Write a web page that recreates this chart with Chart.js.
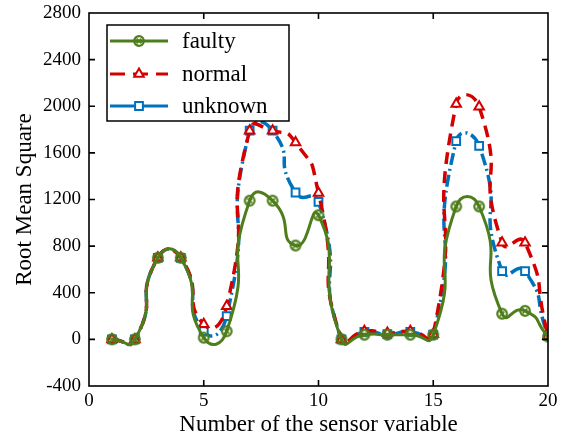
<!DOCTYPE html>
<html>
<head>
<meta charset="utf-8">
<script src="https://cdn.jsdelivr.net/npm/chart.js@4.4.0/dist/chart.umd.min.js"></script>
<style>
  html, body { margin: 0; padding: 0; background: #fff; }
  #wrap { width: 569px; height: 439px; }
</style>
</head>
<body>
<div id="wrap"><canvas id="rms"></canvas></div>
<script>
const sensorIdx = [1, 2, 3, 4, 5, 6, 7, 8, 9, 10, 11, 12, 13, 14, 15, 16, 17, 18, 19, 20];
const faulty  = [0, 0, 700, 700, 15, 70, 1190, 1190, 805, 1065, 0, 40, 40, 40, 40, 1140, 1140, 220, 245, 25];
const normal  = [0, 0, 700, 700, 130, 285, 1790, 1790, 1690, 1255, 0, 70, 55, 70, 45, 2020, 1995, 830, 830, 30];
const unknown = [0, 0, 700, 700, 70, 200, 1790, 1790, 1260, 1180, 0, 65, 45, 65, 40, 1700, 1660, 585, 585, 30];
const seriesNames = ['faulty', 'normal', 'unknown'];
const xTicks = [0, 5, 10, 15, 20];
const yTicks = [-400, 0, 400, 800, 1200, 1600, 2000, 2400, 2800];

const GREEN = '#4e7d1b';
const RED = '#d40000';
const BLUE = '#0072bd';
const SERIF = "'Liberation Serif', 'DejaVu Serif', serif";
const TENSION = 0.7;

// circle with a cross inside, for the faulty markers
function crossCircle() {
    const c = document.createElement('canvas');
    c.width = 14; c.height = 14;
    const g = c.getContext('2d');
    g.strokeStyle = GREEN;
    g.lineWidth = 2.2;
    g.beginPath();
    g.arc(7, 7, 4.8, 0, Math.PI * 2);
    g.stroke();
    g.lineWidth = 1.6;
    g.beginPath();
    g.moveTo(4.6, 4.6); g.lineTo(9.4, 9.4);
    g.moveTo(9.4, 4.6); g.lineTo(4.6, 9.4);
    g.stroke();
    return c;
}
const faultyMarker = crossCircle();

const pts = arr => sensorIdx.map((x, i) => ({ x: x, y: arr[i] }));

const frameAndLegend = {
    id: 'frameAndLegend',
    afterDraw(chart) {
        const { ctx, chartArea: a } = chart;
        const xs = chart.scales.x, ys = chart.scales.y;
        ctx.save();
        ctx.strokeStyle = '#000';
        ctx.lineWidth = 1.6;
        ctx.strokeRect(a.left, a.top, a.right - a.left, a.bottom - a.top);
        ctx.beginPath();
        xTicks.slice(1, -1).forEach(v => {
            const px = xs.getPixelForValue(v);
            ctx.moveTo(px, a.bottom); ctx.lineTo(px, a.bottom - 6);
            ctx.moveTo(px, a.top); ctx.lineTo(px, a.top + 6);
        });
        yTicks.slice(1, -1).forEach(v => {
            const py = ys.getPixelForValue(v);
            ctx.moveTo(a.left, py); ctx.lineTo(a.left + 6, py);
            ctx.moveTo(a.right, py); ctx.lineTo(a.right - 6, py);
        });
        ctx.stroke();

        // legend box
        const bx = 107, by = 25, bw = 182, bh = 96;
        ctx.fillStyle = '#fff';
        ctx.fillRect(bx, by, bw, bh);
        ctx.lineWidth = 1.5;
        ctx.strokeRect(bx, by, bw, bh);
        const rows = [41, 74, 106];
        chart.data.datasets.forEach((ds, i) => {
            const y = rows[i];
            ctx.strokeStyle = ds.borderColor;
            ctx.lineWidth = 3;
            ctx.setLineDash(i === 1 ? [15, 8] : []);
            ctx.beginPath();
            ctx.moveTo(110, y); ctx.lineTo(168, y);
            ctx.stroke();
            ctx.setLineDash([]);
            if (i === 0) {
                ctx.drawImage(faultyMarker, 139 - 7, y - 7);
            } else {
                ctx.lineWidth = ds.pointBorderWidth;
                ctx.strokeStyle = ds.pointBorderColor;
                ctx.fillStyle = ds.pointBackgroundColor;
                Chart.helpers.drawPoint(ctx, { pointStyle: ds.pointStyle, radius: ds.pointRadius, borderWidth: ds.pointBorderWidth, rotation: 0 }, 139, y);
            }
            ctx.fillStyle = '#000';
            ctx.font = '23px ' + SERIF;
            ctx.textBaseline = 'middle';
            ctx.fillText(ds.label, 182, y + 1);
        });
        ctx.restore();
    }
};

new Chart(document.getElementById('rms'), {
    type: 'line',
    data: {
        datasets: [
            {
                label: seriesNames[0],
                data: pts(faulty),
                borderColor: GREEN,
                borderWidth: 3,
                tension: TENSION,
                pointStyle: faultyMarker,
                pointRadius: 5,
                fill: false
            },
            {
                label: seriesNames[1],
                data: pts(normal),
                borderColor: RED,
                borderWidth: 3.5,
                borderDash: [12, 7],
                tension: TENSION,
                pointStyle: 'triangle',
                pointRadius: 5.5,
                pointBorderWidth: 2,
                pointBorderColor: RED,
                pointBackgroundColor: '#fff',
                fill: false
            },
            {
                label: seriesNames[2],
                data: pts(unknown),
                borderColor: BLUE,
                borderWidth: 3.5,
                borderDash: [12, 4, 2, 4],
                tension: TENSION,
                pointStyle: 'rect',
                pointRadius: 5.5,
                pointBorderWidth: 2,
                pointBorderColor: BLUE,
                pointBackgroundColor: '#fff',
                fill: false
            }
        ]
    },
    options: {
        responsive: true,
        maintainAspectRatio: false,
        animation: false,
        layout: { padding: { top: 13, right: 21, left: 0, bottom: 0 } },
        plugins: {
            legend: { display: false },
            tooltip: { enabled: false }
        },
        scales: {
            x: {
                type: 'linear',
                min: 0,
                max: 20,
                afterBuildTicks: s => { s.ticks = xTicks.map(v => ({ value: v })); },
                afterFit: s => { s.height = 53; s.paddingLeft = 0; s.paddingRight = 0; },
                grid: { display: false, drawTicks: false },
                border: { display: false },
                ticks: { color: '#000', padding: 4, maxRotation: 0, callback: v => String(v), font: { family: SERIF, size: 19 } },
                title: { display: true, text: 'Number of the sensor variable', color: '#000', padding: { top: 0, bottom: 0 }, font: { family: SERIF, size: 23 } }
            },
            y: {
                min: -400,
                max: 2800,
                afterBuildTicks: s => { s.ticks = yTicks.map(v => ({ value: v })); },
                afterFit: s => { s.width = 89; s.paddingTop = 0; s.paddingBottom = 0; },
                grid: { display: false, drawTicks: false },
                border: { display: false },
                ticks: { color: '#000', padding: 8, callback: v => String(v), font: { family: SERIF, size: 19 } },
                title: { display: true, text: 'Root Mean Square', color: '#000', padding: { top: 11, bottom: 0 }, font: { family: SERIF, size: 23 } }
            }
        }
    },
    plugins: [frameAndLegend]
});
</script>
</body>
</html>
